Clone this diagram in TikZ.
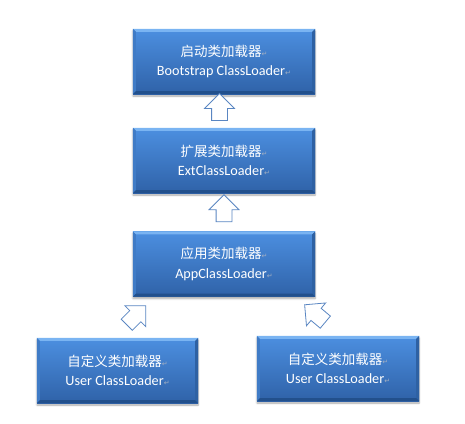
\documentclass[tikz,border=0pt]{standalone}
\usepackage{fontspec}
\setmainfont{Carlito}
\newfontfamily\cjk{Noto Sans CJK SC}
\newfontfamily\symfont{DejaVu Sans}
\usetikzlibrary{shapes.arrows,shadows.blur,calc}
\definecolor{boxtop}{HTML}{4C8FE0}
\definecolor{boxbot}{HTML}{2F62A8}
\definecolor{bevlight}{HTML}{7AB4F2}
\definecolor{bevdark}{HTML}{22508C}
\definecolor{bevside}{HTML}{3F7BC6}
\definecolor{arrowline}{HTML}{5A86C2}
\definecolor{markgray}{HTML}{A3AFC2}
\newcommand\pmark{{\symfont\fontsize{7}{7}\selectfont\textcolor{markgray}{↵}}}
\newcommand\bevel[1]{%
  \fill[bevlight] (#1.north west) -- (#1.north east) -- ([xshift=-3pt,yshift=-3pt]#1.north east) -- ([xshift=3pt,yshift=-3pt]#1.north west) -- cycle;
  \fill[bevside] (#1.north west) -- ([xshift=3pt,yshift=-3pt]#1.north west) -- ([xshift=3pt,yshift=3pt]#1.south west) -- (#1.south west) -- cycle;
  \fill[bevdark!60!bevside] (#1.north east) -- ([xshift=-3pt,yshift=-3pt]#1.north east) -- ([xshift=-3pt,yshift=3pt]#1.south east) -- (#1.south east) -- cycle;
  \fill[bevdark] (#1.south west) -- ([xshift=3pt,yshift=3pt]#1.south west) -- ([xshift=-3pt,yshift=3pt]#1.south east) -- (#1.south east) -- cycle;}

\begin{document}
\begin{tikzpicture}[x=1pt,y=-1pt]
    \tikzstyle{every node}=[inner sep=0pt]
    \tikzstyle{loader}=[rectangle, top color=boxtop, bottom color=boxbot, minimum height=65pt, align=center, text=white,
        font=\fontsize{14.2}{19.5}\selectfont, blur shadow={shadow xshift=0pt, shadow yshift=-2pt, shadow opacity=35, shadow blur steps=6}]
    \tikzstyle{blockarrow}=[single arrow, draw=arrowline, fill=white, line width=0.8pt, inner ysep=7.5pt, inner xsep=0pt,
        minimum height=27pt, single arrow head extend=7pt, single arrow tip angle=90]
    \useasboundingbox (0,0) rectangle (465,423);
    \node[loader, minimum width=182pt] (boot) at (224,61.5) {{\cjk\fontsize{13.5}{19.5}\selectfont 启动类加载器}\pmark\\Bootstrap ClassLoader\pmark};
    \node[loader, minimum width=182pt] (ext) at (224,160.5) {{\cjk\fontsize{13.5}{19.5}\selectfont 扩展类加载器}\pmark\\ExtClassLoader\pmark};
    \node[loader, minimum width=182pt] (app) at (224,264) {{\cjk\fontsize{13.5}{19.5}\selectfont 应用类加载器}\pmark\\AppClassLoader\pmark};
    \node[loader, minimum width=161pt] (user1) at (117.5,370.5) {{\cjk\fontsize{13.5}{19.5}\selectfont 自定义类加载器}\pmark\\User ClassLoader\pmark};
    \node[loader, minimum width=162pt] (user2) at (338,368.5) {{\cjk\fontsize{13.5}{19.5}\selectfont 自定义类加载器}\pmark\\User ClassLoader\pmark};
    \foreach \b in {boot,ext,app,user1,user2} {\bevel{\b}}
    \node[blockarrow, rotate=90] (up1) at ([xshift=-4.5pt]$(boot.south)!0.5!(ext.north)$) {};
    \node[blockarrow, rotate=90] (up2) at ($(ext.south)!0.5!(app.north)$) {};
    \node[blockarrow, rotate=45] (left) at (133.5,318) {};
    \node[blockarrow, rotate=140] (right) at (318,316) {};
\end{tikzpicture}
\end{document}
